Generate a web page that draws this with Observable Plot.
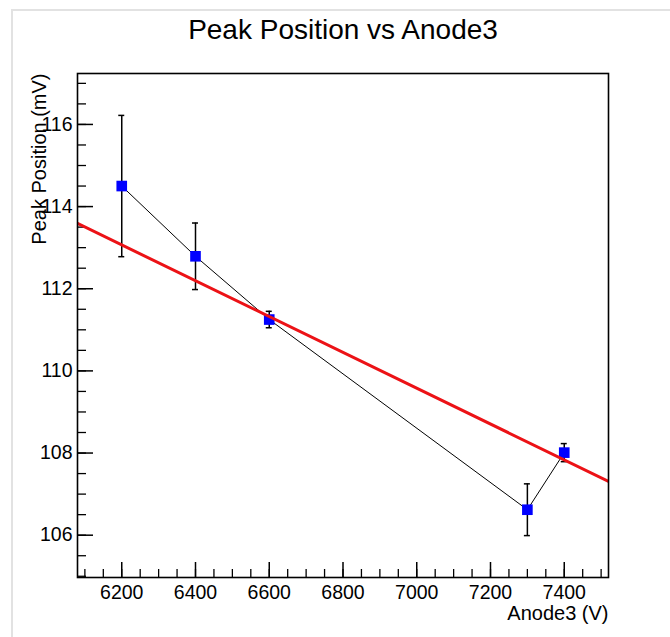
<!DOCTYPE html>
<html>
<head>
<meta charset="utf-8">
<script src="https://cdn.jsdelivr.net/npm/d3@7"></script>
<script src="https://cdn.jsdelivr.net/npm/@observablehq/plot@0.6"></script>
<style>
  html, body { margin: 0; padding: 0; background: white; }
  #wrap { position: relative; width: 670px; height: 637px; overflow: hidden; }
  #border { position: absolute; left: 11px; top: 9px; right: -5px; bottom: -5px;
            border-top: 2px solid #e2e2e2; border-left: 2px solid #e2e2e2; pointer-events: none; }
</style>
</head>
<body>
<div id="wrap"><div id="border"></div></div>
<script>
// Data
const anode = [6200, 6400, 6600, 7300, 7400];
const peak  = [114.50, 112.79, 111.25, 106.62, 108.01];
const err   = [1.72, 0.81, 0.20, 0.63, 0.22];

// Linear fit line (endpoints at the axis range)
const fitX = [6080, 7520];
const fitY = [113.59, 107.31];

// Ticks
const xMajor = [6200, 6400, 6600, 6800, 7000, 7200, 7400];
const xMinor = [6100, 6150, 6200, 6250, 6300, 6350, 6400, 6450, 6500, 6550, 6600, 6650, 6700, 6750,
                6800, 6850, 6900, 6950, 7000, 7050, 7100, 7150, 7200, 7250, 7300, 7350, 7400, 7450, 7500];
const yMajor = [106, 108, 110, 112, 114, 116];
const yMinor = [105, 105.5, 106, 106.5, 107, 107.5, 108, 108.5, 109, 109.5, 110, 110.5, 111, 111.5,
                112, 112.5, 113, 113.5, 114, 114.5, 115, 115.5, 116, 116.5, 117];

const titleText = ["Peak Position vs Anode3"];
const xTitle = ["Anode3 (V)"];
const yTitle = ["Peak Position (mV)"];

const W = 670, H = 637, ML = 77, MR = 62, MT = 73, MB = 60;
const FW = W - ML - MR, FH = H - MT - MB;

const points = anode.map((a, i) => ({x: a, y: peak[i], lo: peak[i] - err[i], hi: peak[i] + err[i]}));
const fit = fitX.map((a, i) => ({x: a, y: fitY[i]}));

const chart = Plot.plot({
  width: W,
  height: H,
  marginLeft: ML,
  marginRight: MR,
  marginTop: MT,
  marginBottom: MB,
  style: {fontFamily: "'Liberation Sans', Arial, Helvetica, sans-serif", fontSize: "19px", background: "transparent", color: "black"},
  x: {domain: [6080, 7520]},
  y: {domain: [104.97, 117.24]},
  marks: [
    // inward ticks (ROOT style)
    Plot.tickX(xMinor, {x: d => d, insetTop: FH - 8, stroke: "black", strokeWidth: 1.3}),
    Plot.tickX(xMajor, {x: d => d, insetTop: FH - 15, stroke: "black", strokeWidth: 1.5}),
    Plot.tickY(yMinor, {y: d => d, insetRight: FW - 9, stroke: "black", strokeWidth: 1.3}),
    Plot.tickY(yMajor, {y: d => d, insetRight: FW - 16, stroke: "black", strokeWidth: 1.5}),
    Plot.axisX({ticks: xMajor, tickSize: 0, tickPadding: 8, fontSize: 19.5, label: null, tickFormat: d => String(d)}),
    Plot.axisY({ticks: yMajor, tickSize: 0, tickPadding: 5, fontSize: 19.5, label: null, tickFormat: d => String(d)}),
    // connecting line
    Plot.line(points, {x: "x", y: "y", stroke: "black", strokeWidth: 1}),
    // error bars
    Plot.ruleX(points, {x: "x", y1: "lo", y2: "hi", stroke: "black", strokeWidth: 1.5}),
    Plot.ruleY(points, {x1: "x", x2: "x", y: "lo", insetLeft: -3, insetRight: -3, stroke: "black", strokeWidth: 1.5}),
    Plot.ruleY(points, {x1: "x", x2: "x", y: "hi", insetLeft: -3, insetRight: -3, stroke: "black", strokeWidth: 1.5}),
    // markers
    Plot.dot(points, {x: "x", y: "y", symbol: "square", r: 6, fill: "#0000ff", stroke: "none"}),
    // fit
    Plot.line(fit, {x: "x", y: "y", stroke: "#ec1216", strokeWidth: 3, clip: true}),
    // frame
    Plot.frame({stroke: "black", strokeWidth: 1.6}),
    // titles
    Plot.text(titleText, {text: d => d, frameAnchor: "top", dy: -43, lineAnchor: "middle", fontSize: 28, fill: "black"}),
    Plot.text(xTitle, {text: d => d, frameAnchor: "bottom-right", textAnchor: "end", lineAnchor: "top", dy: 28, fontSize: 20, fill: "black"}),
    Plot.text(yTitle, {text: d => d, frameAnchor: "top-left", rotate: -90, textAnchor: "end", lineAnchor: "middle", dx: -38, fontSize: 20, fill: "black"})
  ]
});

document.getElementById("wrap").prepend(chart);
</script>
</body>
</html>
